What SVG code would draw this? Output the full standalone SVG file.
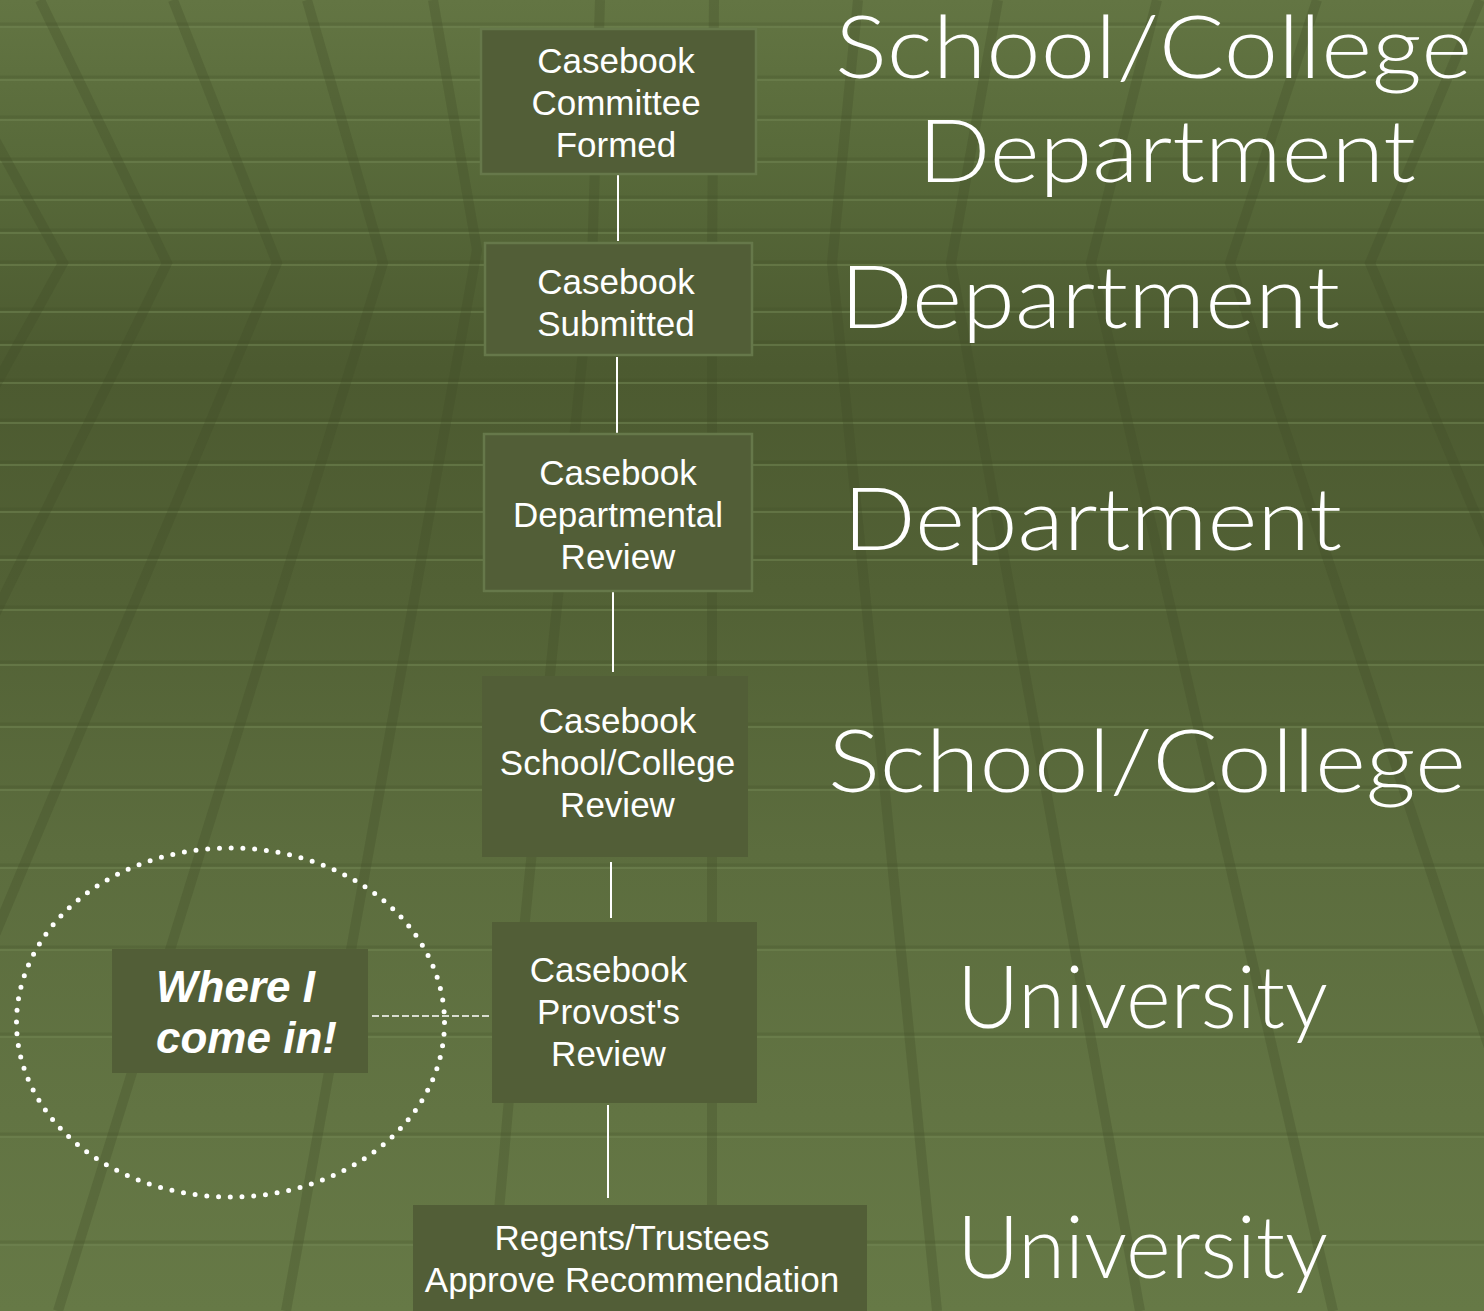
<svg xmlns="http://www.w3.org/2000/svg" width="1484" height="1311" viewBox="0 0 1484 1311">
<defs>
<linearGradient id="bg" x1="0" y1="0" x2="0" y2="1">
<stop offset="0" stop-color="#637543"/>
<stop offset="0.12" stop-color="#586a3a"/>
<stop offset="0.28" stop-color="#4c5a30"/>
<stop offset="0.45" stop-color="#526135"/>
<stop offset="0.65" stop-color="#5c6d3e"/>
<stop offset="0.85" stop-color="#627443"/>
<stop offset="1" stop-color="#667946"/>
</linearGradient>
<style>
.box{fill:#525e37}
.bord{stroke:#66784a;stroke-width:2.5}
.t{font-family:"Liberation Sans",Arial,sans-serif;font-size:35px;fill:#ffffff;text-anchor:middle}
.wh{font-family:"Liberation Sans",Arial,sans-serif;font-size:44px;font-weight:bold;font-style:italic;fill:#ffffff}
.big{font-family:Lato,"Noto Sans",sans-serif;font-weight:300;font-size:86px;fill:#ffffff}
.conn{stroke:#ffffff;stroke-width:2;fill:none}
.hl{stroke:#718552;stroke-width:2;opacity:.55}
.hd{stroke:#3f4c26;stroke-width:3;opacity:.2}
.sl{stroke:#3f4c26;stroke-width:10;fill:none;opacity:.28}
</style>
</defs>
<g id="background">
<rect x="0" y="0" width="1484" height="1311" fill="url(#bg)"/>
<g id="hlines">
<line class="hd" x1="0" y1="24" x2="1484" y2="24"/><line class="hl" x1="0" y1="27" x2="1484" y2="27"/>
<line class="hd" x1="0" y1="77" x2="1484" y2="77"/><line class="hl" x1="0" y1="80" x2="1484" y2="80"/>
<line class="hd" x1="0" y1="117" x2="1484" y2="117"/><line class="hl" x1="0" y1="120" x2="1484" y2="120"/>
<line class="hd" x1="0" y1="159" x2="1484" y2="159"/><line class="hl" x1="0" y1="162" x2="1484" y2="162"/>
<line class="hd" x1="0" y1="197" x2="1484" y2="197"/><line class="hl" x1="0" y1="200" x2="1484" y2="200"/>
<line class="hd" x1="0" y1="230" x2="1484" y2="230"/><line class="hl" x1="0" y1="233" x2="1484" y2="233"/>
<line class="hd" x1="0" y1="262" x2="1484" y2="262"/><line class="hl" x1="0" y1="265" x2="1484" y2="265"/>
<line class="hd" x1="0" y1="309" x2="1484" y2="309"/><line class="hl" x1="0" y1="312" x2="1484" y2="312"/>
<line class="hd" x1="0" y1="342" x2="1484" y2="342"/><line class="hl" x1="0" y1="345" x2="1484" y2="345"/>
<line class="hd" x1="0" y1="380" x2="1484" y2="380"/><line class="hl" x1="0" y1="383" x2="1484" y2="383"/>
<line class="hd" x1="0" y1="420" x2="1484" y2="420"/><line class="hl" x1="0" y1="423" x2="1484" y2="423"/>
<line class="hd" x1="0" y1="462" x2="1484" y2="462"/><line class="hl" x1="0" y1="465" x2="1484" y2="465"/>
<line class="hd" x1="0" y1="509" x2="1484" y2="509"/><line class="hl" x1="0" y1="512" x2="1484" y2="512"/>
<line class="hd" x1="0" y1="557" x2="1484" y2="557"/><line class="hl" x1="0" y1="560" x2="1484" y2="560"/>
<line class="hd" x1="0" y1="607" x2="1484" y2="607"/><line class="hl" x1="0" y1="610" x2="1484" y2="610"/>
<line class="hd" x1="0" y1="662" x2="1484" y2="662"/><line class="hl" x1="0" y1="665" x2="1484" y2="665"/>
<line class="hd" x1="0" y1="724" x2="1484" y2="724"/><line class="hl" x1="0" y1="727" x2="1484" y2="727"/>
<line class="hd" x1="0" y1="787" x2="1484" y2="787"/><line class="hl" x1="0" y1="790" x2="1484" y2="790"/>
<line class="hd" x1="0" y1="865" x2="1484" y2="865"/><line class="hl" x1="0" y1="868" x2="1484" y2="868"/>
<line class="hd" x1="0" y1="947" x2="1484" y2="947"/><line class="hl" x1="0" y1="950" x2="1484" y2="950"/>
<line class="hd" x1="0" y1="1034" x2="1484" y2="1034"/><line class="hl" x1="0" y1="1037" x2="1484" y2="1037"/>
<line class="hd" x1="0" y1="1134" x2="1484" y2="1134"/><line class="hl" x1="0" y1="1137" x2="1484" y2="1137"/>
<line class="hd" x1="0" y1="1242" x2="1484" y2="1242"/><line class="hl" x1="0" y1="1245" x2="1484" y2="1245"/>
</g>
<g id="slants">
<path class="sl" d="M -82 0 L 63 263 L -250 830"/>
<path class="sl" d="M 40 0 L 167 263 L -346 1311"/>
<path class="sl" d="M 173 0 L 277 263 L -163 1311"/>
<path class="sl" d="M 307 0 L 383 263 L 58 1311"/>
<path class="sl" d="M 433 0 L 477 250 L 286 1311"/>
<path class="sl" d="M 600 0 L 592 263 L 525 920 L 490 1311"/>
<path class="sl" d="M 714 0 L 712 263 L 712 1311"/>
<path class="sl" d="M 858 0 L 832 263 L 937 1311"/>
<path class="sl" d="M 998 0 L 951 263 L 1140 1311"/>
<path class="sl" d="M 1157 0 L 1091 263 L 1333 1311"/>
<path class="sl" d="M 1317 0 L 1230 263 L 1576 1311"/>
<path class="sl" d="M 1480 0 L 1370 263 L 1810 1311"/>
<path class="sl" d="M 1630 0 L 1500 263 L 2020 1311"/>
</g>
</g>
<g id="connectors">
<line class="conn" x1="618" y1="175" x2="618" y2="241"/>
<line class="conn" x1="617" y1="357" x2="617" y2="437"/>
<line class="conn" x1="613" y1="592" x2="613" y2="672"/>
<line class="conn" x1="611" y1="862" x2="611" y2="918"/>
<line class="conn" x1="608" y1="1105" x2="608" y2="1198"/>
<line x1="372" y1="1016" x2="490" y2="1016" stroke="#ffffff" stroke-width="1.6" stroke-dasharray="7 3"/>
</g>
<g id="node-committee">
<rect class="box bord" x="481" y="29" width="275" height="145"/>
<text class="t" x="616" y="73">Casebook</text>
<text class="t" x="616" y="115">Committee</text>
<text class="t" x="616" y="157">Formed</text>
</g>
<g id="node-submitted">
<rect class="box bord" x="485" y="243" width="267" height="112"/>
<text class="t" x="616" y="294">Casebook</text>
<text class="t" x="616" y="336">Submitted</text>
</g>
<g id="node-departmental">
<rect class="box bord" x="484" y="434" width="268" height="157"/>
<text class="t" x="618" y="485">Casebook</text>
<text class="t" x="618" y="527">Departmental</text>
<text class="t" x="618" y="569">Review</text>
</g>
<g id="node-school">
<rect class="box" x="482" y="676" width="266" height="181"/>
<text class="t" x="617.5" y="733">Casebook</text>
<text class="t" x="617.5" y="775">School/College</text>
<text class="t" x="617.5" y="817">Review</text>
</g>
<g id="node-provost">
<rect class="box" x="492" y="922" width="265" height="181"/>
<text class="t" x="608.5" y="982">Casebook</text>
<text class="t" x="608.5" y="1024">Provost's</text>
<text class="t" x="608.5" y="1066">Review</text>
</g>
<g id="node-regents">
<rect class="box" x="413" y="1205" width="454" height="110"/>
<text class="t" x="632" y="1250">Regents/Trustees</text>
<text class="t" x="632" y="1292">Approve Recommendation</text>
</g>
<g id="node-where">
<ellipse cx="230.5" cy="1022.5" rx="214" ry="174.5" fill="none" stroke="#ffffff" stroke-width="5" stroke-linecap="round" stroke-dasharray="0 11.77"/>
<rect class="box" x="112" y="949" width="256" height="124"/>
<text class="wh" x="156" y="1002">Where I</text>
<text class="wh" x="156" y="1053">come in!</text>
</g>
<g id="levels">
<text class="big" x="835" y="78" textLength="637" lengthAdjust="spacingAndGlyphs">School/College</text>
<text class="big" x="918" y="182" textLength="498" lengthAdjust="spacingAndGlyphs">Department</text>
<text class="big" x="840" y="328" textLength="500" lengthAdjust="spacingAndGlyphs">Department</text>
<text class="big" x="843" y="550" textLength="499" lengthAdjust="spacingAndGlyphs">Department</text>
<text class="big" x="828" y="792" textLength="638" lengthAdjust="spacingAndGlyphs">School/College</text>
<text class="big" x="957" y="1028" textLength="371" lengthAdjust="spacingAndGlyphs">University</text>
<text class="big" x="957" y="1278" textLength="371" lengthAdjust="spacingAndGlyphs">University</text>
</g>
</svg>
